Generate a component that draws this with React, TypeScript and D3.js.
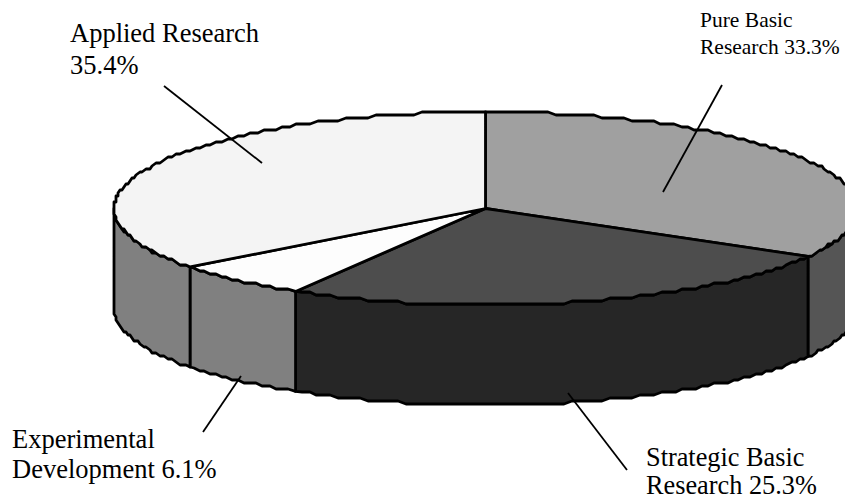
import React from "react";
import * as d3 from "d3";

const categories = ["Pure Basic Research", "Strategic Basic Research", "Experimental Development", "Applied Research"];
const shares = [33.3, 25.3, 6.1, 35.4];
const topFills = ["#a0a0a0", "#4d4d4d", "#fdfdfd", "#f4f4f4"];
const sideFills = ["#555555", "#262626", "#808080", "#808080"];

const cx = 485.5, cy = 208.5, rx = 371.5, ry = 96.5, depth = 100;
const fullTurn = 2 * Math.PI;

const xScale = d3.scaleLinear().domain([-1, 1]).range([cx - rx, cx + rx]);
const yScale = d3.scaleLinear().domain([-1, 1]).range([cy - ry, cy + ry]);

type Pt = [number, number];
const rim = (a: number): Pt => [xScale(Math.sin(a)), yScale(-Math.cos(a))];

// The rim is traced on a coarse grid, which gives it the stepped look of an old office chart.
const gridX = 2, gridY = 3;
const snap = ([x, y]: Pt): Pt => [
  Math.round(x / gridX) * gridX,
  cy - ry + Math.round((y - (cy - ry)) / gridY) * gridY,
];
const arcPoints = (a0: number, a1: number, drop = 0): Pt[] => {
  const n = Math.max(2, Math.ceil(Math.abs(a1 - a0) * rx / 8));
  return d3.range(n + 1).map((i) => {
    const a = a0 + ((a1 - a0) * i) / n;
    const [x, y] = i === 0 || i === n ? rim(a) : snap(rim(a));
    return [x, y + drop] as Pt;
  });
};

const line = d3.line<Pt>();

// Shares are percentages that add up to 100.1 after rounding, so each one keeps 3.6 degrees per
// point and the last slice is closed at the full turn.
const arcs = d3
  .pie<number>()
  .sort(null)
  .startAngle(0)
  .endAngle((fullTurn * d3.sum(shares)) / 100)(shares)
  .map((d) => ({ ...d, endAngle: Math.min(d.endAngle, fullTurn) }));

const visible = (start: number, end: number): [number, number] | null => {
  const lo = Math.max(start, Math.PI / 2);
  const hi = Math.min(end, 1.5 * Math.PI);
  return lo < hi ? [lo, hi] : null;
};

const leaders: [number, number, number, number][] = [
  [722, 85, 663, 192],
  [627, 470, 568, 393],
  [203, 432, 241, 376],
  [164, 86, 262, 163],
];

const labels = [
  { lines: ["Pure Basic", "Research 33.3%"], x: 700, y: [27, 54], size: 21.5 },
  { lines: ["Strategic Basic", "Research 25.3%"], x: 646, y: [466, 494], size: 26.3 },
  { lines: ["Experimental", "Development 6.1%"], x: 12, y: [448, 478], size: 26.5 },
  { lines: ["Applied Research", "35.4%"], x: 70, y: [42, 74], size: 26.5 },
];

export default function App() {
  return (
    <svg
      width={845}
      height={500}
      viewBox="0 0 845 500"
      style={{ position: "absolute", left: 0, top: 0, background: "#fff" }}
    >
      <title>{categories.join(", ")}</title>
      {arcs.map((d, i) => {
        const span = visible(d.startAngle, d.endAngle);
        if (!span) return null;
        const pts = [...arcPoints(span[0], span[1]), ...arcPoints(span[1], span[0], depth)];
        return (
          <path
            key={`side-${i}`}
            d={line(pts) + "Z"}
            fill={sideFills[i]}
            stroke="#000"
            strokeWidth={2.8}
            strokeLinejoin="round"
          />
        );
      })}
      {arcs.map((d, i) => {
        const pts: Pt[] = [[cx, cy], ...arcPoints(d.startAngle, d.endAngle)];
        return (
          <path
            key={`top-${i}`}
            d={line(pts) + "Z"}
            fill={topFills[i]}
            stroke="#000"
            strokeWidth={2.8}
            strokeLinejoin="round"
          />
        );
      })}
      {leaders.map(([x1, y1, x2, y2], i) => (
        <line key={`leader-${i}`} x1={x1} y1={y1} x2={x2} y2={y2} stroke="#000" strokeWidth={1.8} />
      ))}
      {labels.map((l, i) => (
        <text key={`label-${i}`} fontFamily="'Liberation Serif', serif" fontSize={l.size} fill="#000">
          {l.lines.map((t, j) => (
            <tspan key={j} x={l.x} y={l.y[j]}>
              {t}
            </tspan>
          ))}
        </text>
      ))}
    </svg>
  );
}
